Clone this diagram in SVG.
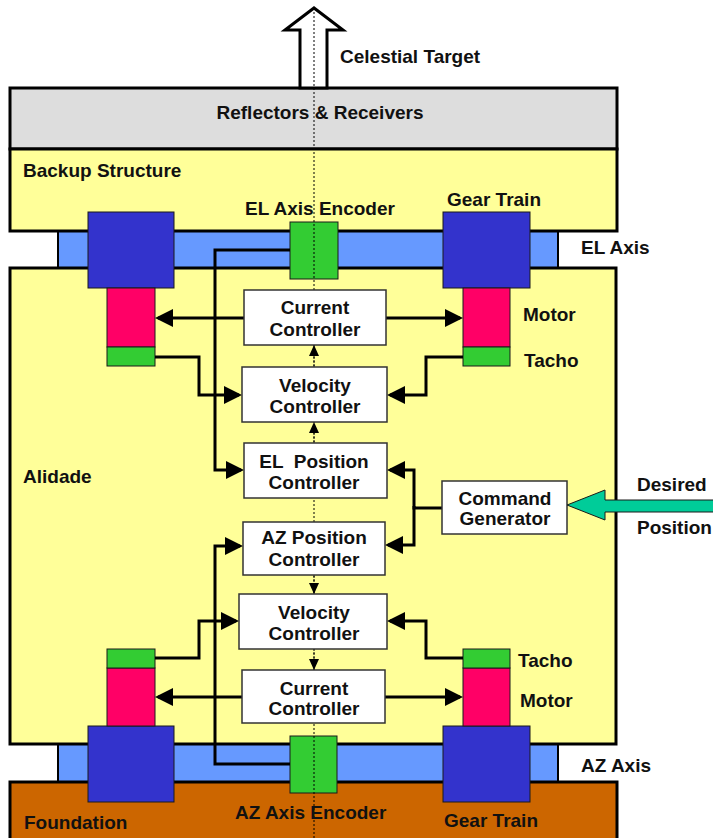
<svg xmlns="http://www.w3.org/2000/svg" width="713" height="838" viewBox="0 0 713 838">
  <style>
    .struct { stroke: #000; stroke-width: 3; }
    .bar { fill: #6699ff; stroke: #000; stroke-width: 2; }
    .gear { fill: #3333cc; stroke: #1a1a1a; stroke-width: 1; }
    .motor { fill: #ff0066; stroke: #1a1a1a; stroke-width: 1; }
    .sensor { fill: #33cc33; stroke: #1a1a1a; stroke-width: 1; }
    .ctrl { fill: #fff; stroke: #333; stroke-width: 1.5; }
    .wire { fill: none; stroke: #000; stroke-width: 3; marker-end: url(#big); }
    .link { fill: none; stroke: #000; stroke-width: 1; stroke-dasharray: 2 2; marker-end: url(#small); }
    .axisline { fill: none; stroke: #000; stroke-width: 1; stroke-dasharray: 2 2; }
    text { font-family: "Liberation Sans", Arial, sans-serif; font-weight: bold; font-size: 19px; fill: #111; }
    .c { text-anchor: middle; }
  </style>
  <defs>
    <marker id="big" markerUnits="userSpaceOnUse" markerWidth="18" markerHeight="18" refX="15" refY="9" orient="auto">
      <path d="M0,0 L18,9 L0,18 z" fill="#000"/>
    </marker>
    <marker id="small" markerUnits="userSpaceOnUse" markerWidth="11" markerHeight="10" refX="11" refY="5" orient="auto">
      <path d="M0,0 L11,5 L0,10 z" fill="#000"/>
    </marker>
  </defs>

  <!-- axis bearings -->
  <rect id="el-axis" class="bar" x="58" y="230" width="500" height="40"/>
  <rect id="az-axis" class="bar" x="58" y="744" width="500" height="38"/>

  <!-- structure layers -->
  <g id="reflectors">
    <rect class="struct" x="10" y="88" width="607" height="61" fill="#dddddd"/>
    <text class="c" x="320" y="119">Reflectors &amp; Receivers</text>
  </g>
  <g id="backup">
    <rect class="struct" x="10" y="149" width="607" height="82" fill="#ffff99"/>
    <text x="23" y="177">Backup Structure</text>
  </g>
  <g id="alidade">
    <rect class="struct" x="10" y="268" width="606" height="476" fill="#ffff99"/>
    <text x="23" y="483">Alidade</text>
  </g>
  <g id="foundation">
    <rect class="struct" x="10" y="782" width="607" height="70" fill="#cc6600"/>
    <text x="24" y="829">Foundation</text>
  </g>

  <!-- celestial target arrow -->
  <g id="target">
    <polygon points="300,88 300,30 285,30 314,8 343,30 327,30 327,88" fill="#fff" stroke="#000" stroke-width="3" stroke-linejoin="miter"/>
    <text x="340" y="63">Celestial Target</text>
  </g>

  <!-- elevation drive -->
  <g id="el-gear-left"><rect class="gear" x="88" y="212" width="86" height="76"/></g>
  <g id="el-gear-right"><rect class="gear" x="443" y="212" width="87" height="76"/></g>
  <g id="el-motor-left"><rect class="motor" x="107" y="288" width="48" height="59"/></g>
  <g id="el-motor-right"><rect class="motor" x="463" y="288" width="47" height="59"/></g>
  <g id="el-tacho-left"><rect class="sensor" x="107" y="347" width="48" height="19"/></g>
  <g id="el-tacho-right"><rect class="sensor" x="463" y="347" width="47" height="19"/></g>
  <g id="el-encoder"><rect class="sensor" x="290" y="222" width="48" height="57"/></g>

  <!-- azimuth drive -->
  <g id="az-gear-left"><rect class="gear" x="88" y="726" width="86" height="76"/></g>
  <g id="az-gear-right"><rect class="gear" x="443" y="726" width="87" height="76"/></g>
  <g id="az-motor-left"><rect class="motor" x="107" y="668" width="48" height="58"/></g>
  <g id="az-motor-right"><rect class="motor" x="463" y="668" width="47" height="58"/></g>
  <g id="az-tacho-left"><rect class="sensor" x="107" y="649" width="48" height="19"/></g>
  <g id="az-tacho-right"><rect class="sensor" x="463" y="649" width="47" height="19"/></g>
  <g id="az-encoder"><rect class="sensor" x="290" y="736" width="47" height="57"/></g>

  <!-- boresight axis -->
  <path class="axisline" d="M314,8 V838"/>

  <!-- signal connectors -->
  <g id="connectors">
    <path class="wire" d="M244,318 H158"/>
    <path class="wire" d="M386,318 H460"/>
    <path class="wire" d="M155,357 H199 V395 H239"/>
    <path class="wire" d="M463,357 H426 V395 H390"/>
    <path class="wire" d="M290,250 H215 V470 H241"/>
    <path class="wire" d="M444,508 H414 V470 H390"/>
    <path class="wire" d="M414,506 V545 H388"/>
    <path class="wire" d="M290,764 H215 V546 H240"/>
    <path class="wire" d="M155,658 H199 V621 H236"/>
    <path class="wire" d="M463,658 H426 V621 H390"/>
    <path class="wire" d="M242,697 H158"/>
    <path class="wire" d="M385,697 H460"/>
    <path class="link" d="M314,367 V345"/>
    <path class="link" d="M314,443 V422"/>
    <path class="link" d="M314,575 V594"/>
    <path class="link" d="M314,649 V670"/>
  </g>

  <!-- controllers -->
  <g id="el-current">
    <rect class="ctrl" x="244" y="290" width="142" height="55"/>
    <text class="c" x="315" y="314">Current</text>
    <text class="c" x="315" y="336">Controller</text>
  </g>
  <g id="el-velocity">
    <rect class="ctrl" x="242" y="367" width="145" height="55"/>
    <text class="c" x="315" y="392">Velocity</text>
    <text class="c" x="315" y="413">Controller</text>
  </g>
  <g id="el-position">
    <rect class="ctrl" x="244" y="443" width="143" height="55"/>
    <text class="c" x="314" y="468" xml:space="preserve">EL  Position</text>
    <text class="c" x="314" y="489">Controller</text>
  </g>
  <g id="az-position">
    <rect class="ctrl" x="243" y="522" width="142" height="53"/>
    <text class="c" x="314" y="544">AZ Position</text>
    <text class="c" x="314" y="566">Controller</text>
  </g>
  <g id="az-velocity">
    <rect class="ctrl" x="239" y="594" width="148" height="55"/>
    <text class="c" x="314" y="619">Velocity</text>
    <text class="c" x="314" y="640">Controller</text>
  </g>
  <g id="az-current">
    <rect class="ctrl" x="242" y="670" width="143" height="53"/>
    <text class="c" x="314" y="695">Current</text>
    <text class="c" x="314" y="715">Controller</text>
  </g>
  <g id="command-generator">
    <rect class="ctrl" x="442" y="481" width="125" height="53"/>
    <text class="c" x="505" y="505">Command</text>
    <text class="c" x="505" y="525">Generator</text>
  </g>

  <!-- desired position input -->
  <g id="desired-position">
    <polygon points="567,505 605,490 605,500 715,500 715,512 605,512 605,520" fill="#00cc99" stroke="#1a1a1a" stroke-width="1"/>
    <text x="637" y="491">Desired</text>
    <text x="637" y="534">Position</text>
  </g>

  <!-- labels -->
  <text x="245" y="215">EL Axis Encoder</text>
  <text x="447" y="206">Gear Train</text>
  <text x="581" y="254">EL Axis</text>
  <text x="523" y="321">Motor</text>
  <text x="524" y="367">Tacho</text>
  <text x="518" y="667">Tacho</text>
  <text x="520" y="707">Motor</text>
  <text x="581" y="772">AZ Axis</text>
  <text x="235" y="819">AZ Axis Encoder</text>
  <text x="444" y="827">Gear Train</text>
</svg>
